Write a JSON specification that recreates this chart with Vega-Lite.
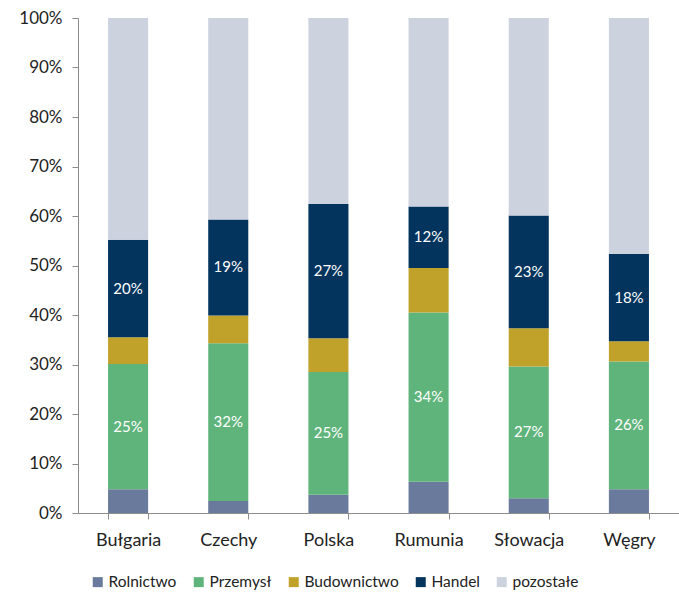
{
  "$schema": "https://vega.github.io/schema/vega-lite/v6.json",
  "width": 601,
  "height": 495,
  "autosize": "none",
  "padding": {"left": 78, "top": 18, "right": 0, "bottom": 83},
  "background": "white",
  "config": {"view": {"stroke": null}, "font": "Lato"},
  "data": {
    "values": [
      {"c": "Bułgaria", "s": "Rolnictwo", "v": 4.8},
      {"c": "Bułgaria", "s": "Przemysł", "v": 25.3},
      {"c": "Bułgaria", "s": "Budownictwo", "v": 5.4},
      {"c": "Bułgaria", "s": "Handel", "v": 19.7},
      {"c": "Bułgaria", "s": "pozostałe", "v": 44.8},
      {"c": "Czechy", "s": "Rolnictwo", "v": 2.4},
      {"c": "Czechy", "s": "Przemysł", "v": 31.9},
      {"c": "Czechy", "s": "Budownictwo", "v": 5.6},
      {"c": "Czechy", "s": "Handel", "v": 19.4},
      {"c": "Czechy", "s": "pozostałe", "v": 40.7},
      {"c": "Polska", "s": "Rolnictwo", "v": 3.7},
      {"c": "Polska", "s": "Przemysł", "v": 24.8},
      {"c": "Polska", "s": "Budownictwo", "v": 6.8},
      {"c": "Polska", "s": "Handel", "v": 27.1},
      {"c": "Polska", "s": "pozostałe", "v": 37.6},
      {"c": "Rumunia", "s": "Rolnictwo", "v": 6.3},
      {"c": "Rumunia", "s": "Przemysł", "v": 34.2},
      {"c": "Rumunia", "s": "Budownictwo", "v": 9.0},
      {"c": "Rumunia", "s": "Handel", "v": 12.4},
      {"c": "Rumunia", "s": "pozostałe", "v": 38.1},
      {"c": "Słowacja", "s": "Rolnictwo", "v": 3.0},
      {"c": "Słowacja", "s": "Przemysł", "v": 26.6},
      {"c": "Słowacja", "s": "Budownictwo", "v": 7.7},
      {"c": "Słowacja", "s": "Handel", "v": 22.8},
      {"c": "Słowacja", "s": "pozostałe", "v": 39.9},
      {"c": "Węgry", "s": "Rolnictwo", "v": 4.8},
      {"c": "Węgry", "s": "Przemysł", "v": 25.8},
      {"c": "Węgry", "s": "Budownictwo", "v": 4.1},
      {"c": "Węgry", "s": "Handel", "v": 17.6},
      {"c": "Węgry", "s": "pozostałe", "v": 47.7}
    ]
  },
  "transform": [
    {"calculate": "indexof(['Rolnictwo','Przemysł','Budownictwo','Handel','pozostałe'], datum.s)", "as": "k"},
    {"stack": "v", "groupby": ["c"], "sort": [{"field": "k", "order": "ascending"}], "as": ["y0", "y1"]},
    {"calculate": "(datum.y0 + datum.y1) / 2", "as": "ym"},
    {"calculate": "format(datum.v, '.0f') + '%'", "as": "lab"}
  ],
  "encoding": {
    "x": {
      "field": "c",
      "type": "nominal",
      "sort": ["Bułgaria", "Czechy", "Polska", "Rumunia", "Słowacja", "Węgry"],
      "scale": {"paddingInner": 0.6, "paddingOuter": 0.3},
      "axis": {
        "title": null,
        "labelAngle": 0,
        "labelFontSize": 18,
        "labelColor": "#222222",
        "labelPadding": 12,
        "tickBand": "extent",
        "tickSize": 6,
        "tickColor": "#8c8c8c",
        "domainColor": "#8c8c8c",
        "grid": false
      }
    }
  },
  "layer": [
    {
      "mark": {"type": "bar"},
      "encoding": {
        "y": {
          "field": "y0",
          "type": "quantitative",
          "scale": {"domain": [0, 100]},
          "axis": {
            "title": null,
            "values": [0, 10, 20, 30, 40, 50, 60, 70, 80, 90, 100],
            "labelExpr": "datum.value + '%'",
            "labelFontSize": 17,
            "labelColor": "#222222",
            "labelPadding": 10,
            "tickSize": 6,
            "tickColor": "#8c8c8c",
            "domainColor": "#8c8c8c",
            "grid": false
          }
        },
        "y2": {"field": "y1"},
        "color": {
          "field": "s",
          "type": "nominal",
          "scale": {
            "domain": ["Rolnictwo", "Przemysł", "Budownictwo", "Handel", "pozostałe"],
            "range": ["#6A7A9C", "#5FB47C", "#C0A22B", "#02345E", "#CDD2DF"]
          },
          "legend": {
            "title": null,
            "orient": "none",
            "direction": "horizontal",
            "legendX": 12,
            "legendY": 556,
            "symbolType": "square",
            "symbolSize": 100,
            "symbolStrokeWidth": 0,
            "labelFontSize": 15.5,
            "labelColor": "#222222",
            "labelOffset": 3,
            "columnPadding": 14
          }
        }
      }
    },
    {
      "transform": [{"filter": "datum.s === 'Przemysł' || datum.s === 'Handel'"}],
      "mark": {"type": "text", "color": "white", "fontSize": 15},
      "encoding": {
        "y": {"field": "ym", "type": "quantitative"},
        "text": {"field": "lab", "type": "nominal"}
      }
    }
  ]
}
